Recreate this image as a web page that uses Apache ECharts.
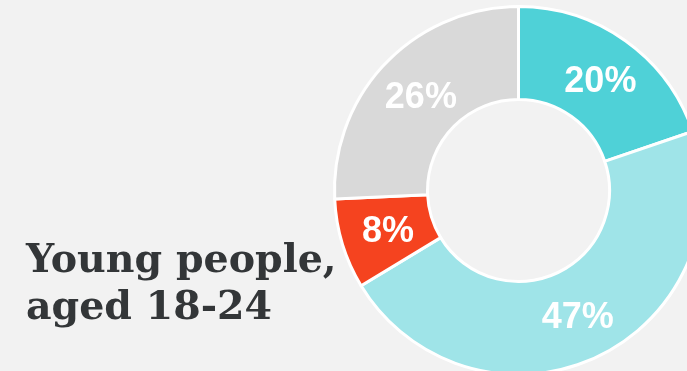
<!DOCTYPE html>
<html>
<head>
<meta charset="utf-8">
<script src="https://cdn.jsdelivr.net/npm/echarts@6/dist/echarts.min.js"></script>
<style>
  html, body { margin: 0; padding: 0; background: #f2f2f2; }
  #chart { width: 687px; height: 371px; }
</style>
</head>
<body>
<div id="chart"></div>
<script>
// Share of young people (18-24) by answer group
const groups = ['Group A', 'Group B', 'Group C', 'Group D'];
const shares = [20, 47, 8, 26];
const sliceColors = ['#4fd1d7', '#9fe4e8', '#f5431f', '#d9d9d9'];
const labelNudges = [[0, 6], [0, 0], [4, 1], [4, 5]];
const heading = ['Young people,', 'aged 18-24'];

const chart = echarts.init(document.getElementById('chart'), null, { renderer: 'canvas' });

chart.setOption({
  backgroundColor: '#f2f2f2',
  animation: false,
  title: {
    text: heading.join('\n'),
    left: 21,
    top: 233,
    textStyle: {
      fontFamily: '"DejaVu Serif", serif',
      fontWeight: 'bold',
      fontSize: 39.5,
      lineHeight: 47,
      color: '#333638'
    }
  },
  series: [{
    type: 'pie',
    center: [518.5, 190.5],
    radius: [91, 184],
    startAngle: 90,
    clockwise: true,
    avoidLabelOverlap: false,
    silent: true,
    data: groups.map((name, i) => ({
      name,
      value: shares[i],
      itemStyle: { color: sliceColors[i] },
      label: { offset: labelNudges[i] }
    })),
    itemStyle: { borderColor: '#ffffff', borderWidth: 3 },
    label: {
      show: true,
      position: 'inside',
      formatter: '{c}%',
      color: '#ffffff',
      fontFamily: '"Liberation Sans", Arial, sans-serif',
      fontWeight: 'bold',
      fontSize: 36
    },
    labelLine: { show: false }
  }]
});
</script>
</body>
</html>
